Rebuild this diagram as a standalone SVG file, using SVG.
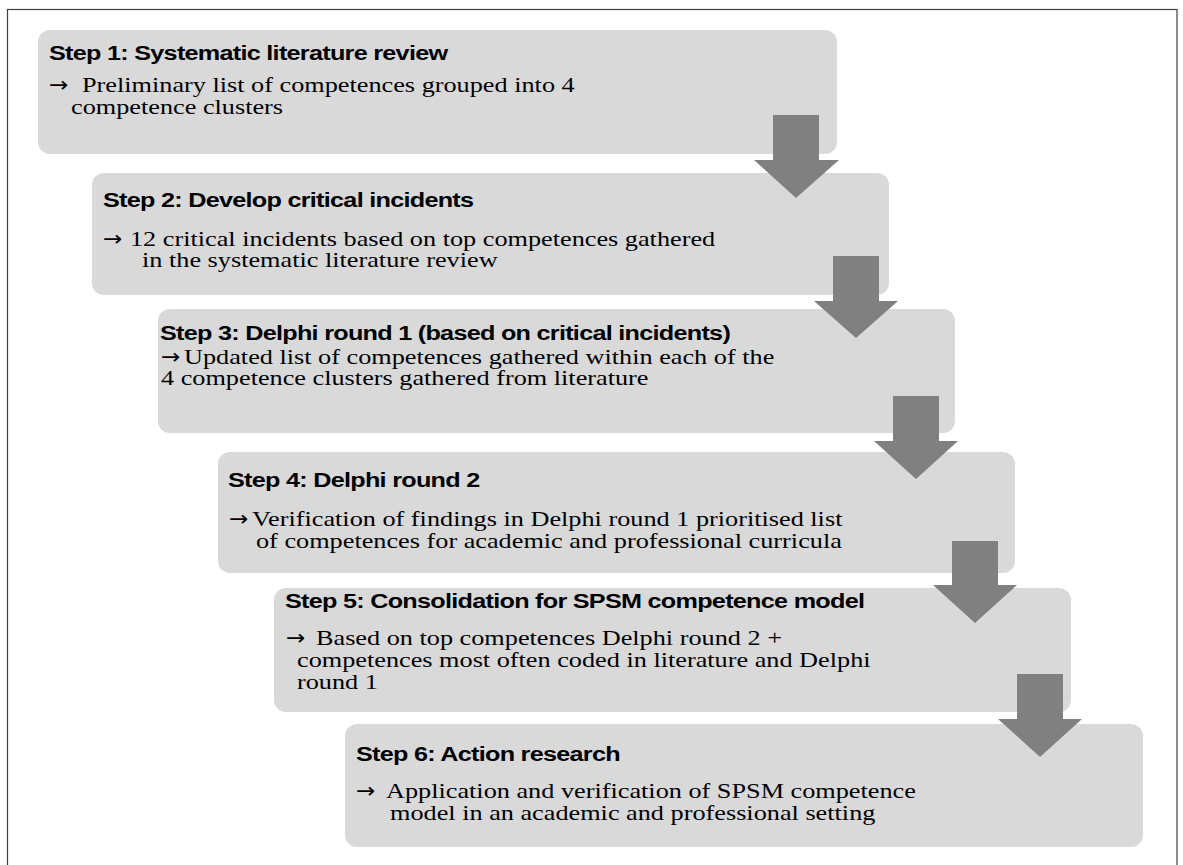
<svg xmlns="http://www.w3.org/2000/svg" width="1183" height="865" viewBox="0 0 1183 865">
  <style>
    .box { fill: #d9d9d9; }
    .arrow { fill: #808080; }
    .title { font-family: "Liberation Sans", Arial, sans-serif; font-weight: bold; font-size: 21px; letter-spacing: -0.6px; fill: #000; }
    .body { font-family: "Liberation Serif", "Times New Roman", serif; font-size: 21px; fill: #000; }
    .pt { font-family: "DejaVu Sans", sans-serif; font-size: 21px; fill: #000; }
    .frame { fill: none; stroke: #404040; stroke-width: 1.2; }
  </style>
  <rect x="0" y="0" width="1183" height="865" fill="#ffffff"/>
  <rect class="frame" x="7.5" y="9.5" width="1169.5" height="870"/>

  <!-- step boxes: titles are sans bold, descriptions serif, both drawn slightly wide -->
  <g id="step1">
    <rect class="box" x="38" y="30" width="799" height="124" rx="12"/>
    <text class="title" transform="translate(49 60) scale(1.2 1)">Step 1: Systematic literature review</text>
    <text class="pt" transform="translate(49 92) scale(1.1 1)">→</text>
    <text class="body" transform="translate(82 92) scale(1.25 1)">Preliminary list of competences grouped into 4</text>
    <text class="body" transform="translate(71 114) scale(1.25 1)">competence clusters</text>
  </g>
  <g id="step2">
    <rect class="box" x="92" y="173" width="797" height="122" rx="12"/>
    <text class="title" transform="translate(103 207) scale(1.2 1)">Step 2: Develop critical incidents</text>
    <text class="pt" transform="translate(103 246) scale(1.1 1)">→</text>
    <text class="body" transform="translate(130 246) scale(1.25 1)">12 critical incidents based on top competences gathered</text>
    <text class="body" transform="translate(142 267) scale(1.25 1)">in the systematic literature review</text>
  </g>
  <g id="step3">
    <rect class="box" x="158" y="309" width="797" height="124" rx="12"/>
    <text class="title" transform="translate(160 340) scale(1.2 1)">Step 3: Delphi round 1 (based on critical incidents)</text>
    <text class="pt" transform="translate(161 364) scale(1.1 1)">→</text>
    <text class="body" transform="translate(184 364) scale(1.25 1)">Updated list of competences gathered within each of the</text>
    <text class="body" transform="translate(161 385) scale(1.25 1)">4 competence clusters gathered from literature</text>
  </g>
  <g id="step4">
    <rect class="box" x="218" y="452" width="797" height="121" rx="12"/>
    <text class="title" transform="translate(228 487) scale(1.2 1)">Step 4: Delphi round 2</text>
    <text class="pt" transform="translate(229 526) scale(1.1 1)">→</text>
    <text class="body" transform="translate(252 526) scale(1.25 1)">Verification of findings in Delphi round 1 prioritised list</text>
    <text class="body" transform="translate(256 548) scale(1.25 1)">of competences for academic and professional curricula</text>
  </g>
  <g id="step5">
    <rect class="box" x="274" y="588" width="797" height="124" rx="12"/>
    <text class="title" transform="translate(285 608) scale(1.2 1)">Step 5: Consolidation for SPSM competence model</text>
    <text class="pt" transform="translate(286 645) scale(1.1 1)">→</text>
    <text class="body" transform="translate(316 645) scale(1.25 1)">Based on top competences Delphi round 2 +</text>
    <text class="body" transform="translate(297 667) scale(1.25 1)">competences most often coded in literature and Delphi</text>
    <text class="body" transform="translate(297 689) scale(1.25 1)">round 1</text>
  </g>
  <g id="step6">
    <rect class="box" x="345" y="724" width="798" height="123" rx="12"/>
    <text class="title" transform="translate(356 761) scale(1.2 1)">Step 6: Action research</text>
    <text class="pt" transform="translate(356 798) scale(1.1 1)">→</text>
    <text class="body" transform="translate(386 798) scale(1.25 1)">Application and verification of SPSM competence</text>
    <text class="body" transform="translate(390 820) scale(1.25 1)">model in an academic and professional setting</text>
  </g>

  <!-- block arrows between steps -->
  <g id="connectors">
    <polygon class="arrow" points="773,115 819,115 819,160 839,160 796,198 754,160 773,160"/>
    <polygon class="arrow" points="833,256 879,256 879,301 898,301 856,338 814,301 833,301"/>
    <polygon class="arrow" points="893,396 939,396 939,441 958,441 916,479 874,441 893,441"/>
    <polygon class="arrow" points="952,541 998,541 998,585 1017,585 975,623 933,585 952,585"/>
    <polygon class="arrow" points="1017,674 1063,674 1063,719 1082,719 1040,757 998,719 1017,719"/>
  </g>
</svg>
